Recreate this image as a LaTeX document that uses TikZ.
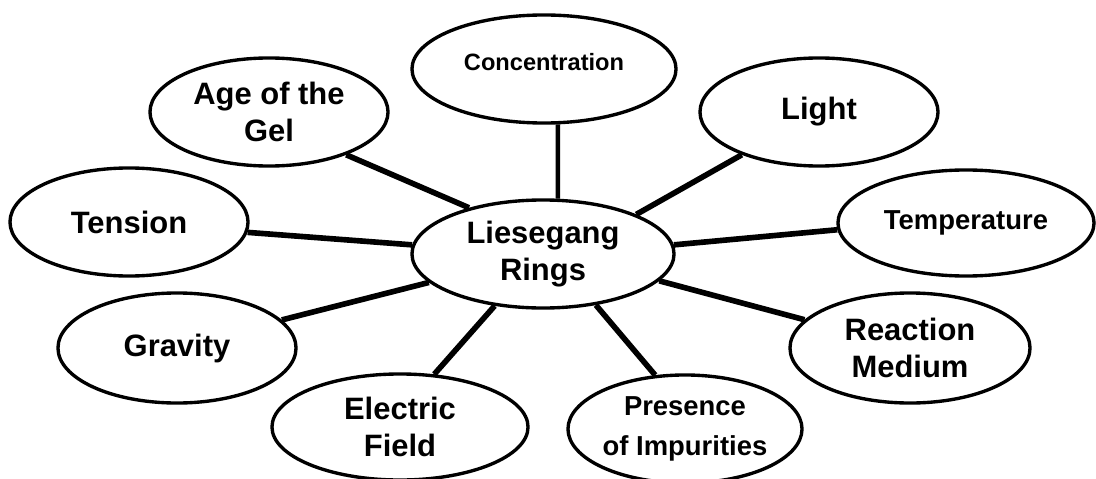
\documentclass[tikz,border=0pt]{standalone}
\usepackage{fontspec}
\setmainfont{Liberation Sans}
\usetikzlibrary{shapes.geometric}

\begin{document}
\begin{tikzpicture}[
    x=0.025cm, y=-0.025cm,
    factor/.style={ellipse, draw=black, line width=2.4pt, fill=white, inner sep=0pt,
        align=center, font=\fontsize{22}{26.3}\selectfont\bfseries,
        minimum width=5.95cm, minimum height=2.7cm},
    factor_mid/.style={factor, font=\fontsize{19.5}{28.5}\selectfont\bfseries},
    factor_small/.style={factor, font=\fontsize{16.8}{20}\selectfont\bfseries},
    link/.style={black, line width=4pt}
]
    \useasboundingbox (0,0) rectangle (1096,479);
    % Centro
    \node[factor, minimum width=6.55cm] (rings) at (543,254) {Liesegang\\Rings};
    % Fatores
    \node[factor_small, minimum width=6.6cm, text depth=10pt] (conc) at (544,69) {Concentration};
    \node[factor] (light) at (819,112) {Light};
    \node[factor] (age) at (269,112) {Age of the\\Gel};
    \node[factor] (tension) at (129,222) {Tension};
    \node[factor_mid, minimum width=6.4cm, minimum height=2.65cm] (temp) at (966,223) {Temperature};
    \node[factor, minimum height=2.75cm] (gravity) at (177,348) {Gravity};
    \node[factor, minimum width=6cm, minimum height=2.75cm] (medium) at (910,348) {Reaction\\Medium};
    \node[factor, minimum width=6.4cm, minimum height=2.65cm] (field) at (400,427) {Electric\\Field};
    \node[factor_mid, minimum width=5.85cm] (impurities) at (685,429) {Presence\\of Impurities};
    % Ligacoes
    \draw[link, line width=3.2pt] (rings.75.5) -- (conc.-76);
    \draw[link] (rings.23) -- (light.209);
    \draw[link] (rings.148) -- (age.-29);
    \draw[link] (rings.176) -- (tension.-5);
    \draw[link] (rings.4) -- (temp.183);
    \draw[link] (rings.194) -- (gravity.15);
    \draw[link] (rings.-13.5) -- (medium.165);
    \draw[link] (rings.227) -- (field.57);
    \draw[link] (rings.-44) -- (impurities.119);
\end{tikzpicture}
\end{document}
